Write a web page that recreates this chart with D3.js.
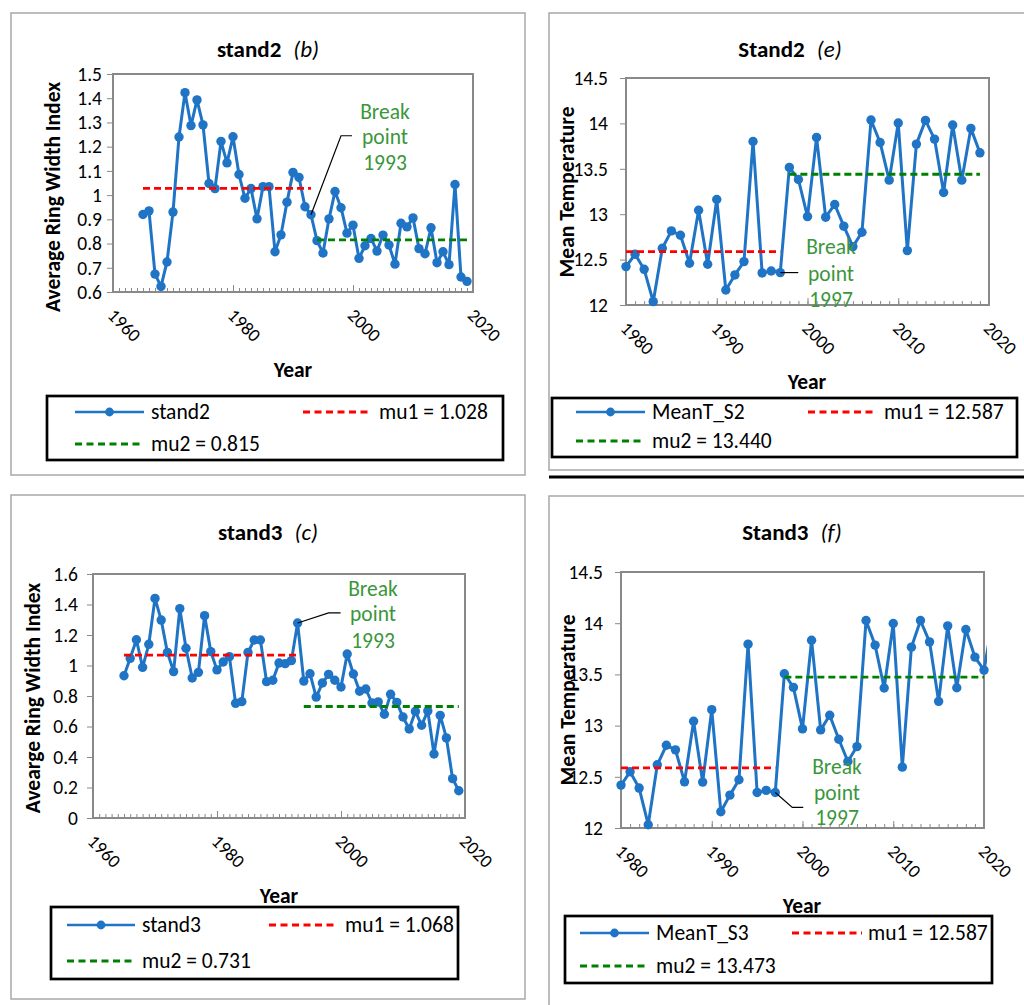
<!DOCTYPE html>
<html>
<head>
<meta charset="utf-8">
<script src="https://d3js.org/d3.v7.min.js"></script>
<style>
  body { margin: 0; background: #fff; }
  svg { display: block; font-family: Calibri, Carlito, Lato, sans-serif; }
</style>
</head>
<body>
<svg id="chart" width="1024" height="1005"></svg>
<script>
// ---- data ----
// ring width index, one value per year starting at 1965
var stand2Start = 1965;
var stand2 = [0.92, 0.935, 0.674, 0.623, 0.724, 0.93, 1.24, 1.423, 1.287, 1.393,
  1.29, 1.048, 1.027, 1.222, 1.133, 1.241, 1.085, 0.987, 1.027, 0.902,
  1.035, 1.035, 0.766, 0.836, 0.971, 1.094, 1.073, 0.952, 0.919, 0.812,
  0.761, 0.902, 1.015, 0.948, 0.843, 0.876, 0.739, 0.791, 0.821, 0.769,
  0.835, 0.794, 0.715, 0.884, 0.869, 0.906, 0.779, 0.758, 0.865, 0.721,
  0.766, 0.713, 1.044, 0.662, 0.644];

var stand3Start = 1965;
var stand3 = [0.933, 1.047, 1.169, 0.988, 1.139, 1.44, 1.298, 1.086, 0.96, 1.373,
  1.113, 0.918, 0.955, 1.327, 1.091, 0.971, 1.023, 1.058, 0.752, 0.763,
  1.086, 1.167, 1.167, 0.894, 0.903, 1.016, 1.012, 1.032, 1.279, 0.898,
  0.946, 0.793, 0.885, 0.942, 0.903, 0.859, 1.075, 0.944, 0.831, 0.846,
  0.754, 0.761, 0.68, 0.811, 0.758, 0.662, 0.584, 0.699, 0.608, 0.702,
  0.42, 0.673, 0.525, 0.258, 0.179];

// mean temperature, one value per year starting at 1980
var meanTS2Start = 1980;
var meanTS2 = [12.423, 12.559, 12.393, 12.037, 12.625, 12.816, 12.768, 12.46, 13.044, 12.449,
  13.162, 12.165, 12.331, 12.478, 13.801, 12.353, 12.375, 12.357, 13.515, 13.382,
  12.974, 13.846, 12.967, 13.107, 12.868, 12.643, 12.801, 14.037, 13.79, 13.375,
  14.004, 12.599, 13.772, 14.033, 13.827, 13.239, 13.982, 13.375, 13.945, 13.676];

var meanTS3Start = 1980;
var meanTS3 = [12.419, 12.549, 12.39, 12.032, 12.617, 12.808, 12.763, 12.451, 13.042, 12.448,
  13.156, 12.159, 12.321, 12.471, 13.795, 12.347, 12.367, 12.347, 13.506, 13.373,
  12.968, 13.834, 12.958, 13.101, 12.867, 12.649, 12.795, 14.026, 13.786, 13.367,
  13.997, 12.594, 13.766, 14.026, 13.818, 13.237, 13.974, 13.37, 13.938, 13.669,
  13.542, 14.05];

// segment means and the years they span
var mu_b = [1.028, 0.815];   var span_b = [[1965, 1993], [1994, 2019]];
var mu_c = [1.068, 0.731];   var span_c = [[1965, 1993], [1994, 2019]];
var mu_e = [12.587, 13.440]; var span_e = [[1980, 1997], [1998, 2019]];
var mu_f = [12.587, 13.473]; var span_f = [[1980, 1997], [1998, 2020]];

// tick labels
var xTicksRing = [1960, 1980, 2000, 2020];
var xTicksTemp = [1980, 1990, 2000, 2010, 2020];
var yTicksB = [0.6, 0.7, 0.8, 0.9, 1, 1.1, 1.2, 1.3, 1.4, 1.5];
var yTicksC = [0, 0.2, 0.4, 0.6, 0.8, 1, 1.2, 1.4, 1.6];
var yTicksTemp = [12, 12.5, 13, 13.5, 14, 14.5];

var BLUE = "#1f74c6", RED = "#ff0000", GREEN = "#008000", NOTE = "#3a963a";
var AXIS = "#898989", FRAME = "#a8a8a8";
var TICK_FS = "19.5px", XTICK_FS = "18.5px", LABEL_FS = "21.5px", TITLE_FS = "23px";

var panels = [
  { series: stand2, start: stand2Start, name: "stand2", title: "stand2", tag: "(b)",
    yTitle: "Average Ring Width Index", xDomain: [1960, 2020], xTicks: xTicksRing,
    yDomain: [0.6, 1.5], yTicks: yTicksB, mu: mu_b, span: span_b, breakYear: 1993,
    frame: {x: 11, y: 13, w: 514, h: 462}, plot: {l: 113, t: 74, r: 473, b: 292}, labelGap: 11,
    titleX: 268, titleY: 49, yTitleX: 53, yTitleY: 197, xTitleX: 293, xTitleY: 370,
    noteX: 385, noteY: [112, 137, 163], leader: [[0, 0], [30, -79], [41, -79]],
    legend: {x: 47, y: 396, w: 456, h: 64, rows: [412, 444], s1: [75, 144], t1: 151, s2: [303, 372], t2: 379} },
  { series: meanTS2, start: meanTS2Start, name: "MeanT_S2", title: "Stand2", tag: "(e)",
    yTitle: "Mean Temperature", xDomain: [1980, 2020], xTicks: xTicksTemp,
    yDomain: [12, 14.5], yTicks: yTicksTemp, mu: mu_e, span: span_e, breakYear: 1997,
    frame: {x: 549, y: 13, w: 500, h: 457}, plot: {l: 626, t: 78, r: 989, b: 305}, labelGap: 18,
    titleX: 790, titleY: 49, yTitleX: 567, yTitleY: 192, xTitleX: 807, xTitleY: 382,
    noteX: 831, noteY: [247, 274, 300], leader: [[0, 0], [18, 0]],
    legend: {x: 552, y: 398, w: 465, h: 59, rows: [412, 441], s1: [576, 645], t1: 652, s2: [808, 877], t2: 884} },
  { series: stand3, start: stand3Start, name: "stand3", title: "stand3", tag: "(c)",
    yTitle: "Avearge Ring Width Index", xDomain: [1960, 2020], xTicks: xTicksRing,
    yDomain: [0, 1.6], yTicks: yTicksC, mu: mu_c, span: span_c, breakYear: 1993,
    frame: {x: 11, y: 495, w: 514, h: 504}, plot: {l: 93, t: 574, r: 465, b: 818}, labelGap: 15,
    titleX: 268, titleY: 532, yTitleX: 33, yTitleY: 698, xTitleX: 279, xTitleY: 896,
    noteX: 373, noteY: [589, 614, 641], leader: [[0, 0], [31, -10], [43, -10]],
    legend: {x: 51, y: 907, w: 407, h: 72, rows: [925, 961], s1: [67, 135], t1: 142, s2: [269, 338], t2: 345} },
  { series: meanTS3, start: meanTS3Start, name: "MeanT_S3", title: "Stand3", tag: "(f)",
    yTitle: "Mean Temperature", xDomain: [1980, 2020], xTicks: xTicksTemp,
    yDomain: [12, 14.5], yTicks: yTicksTemp, mu: mu_f, span: span_f, breakYear: 1997,
    frame: {x: 549, y: 496, w: 500, h: 540}, plot: {l: 621, t: 572, r: 984, b: 828}, labelGap: 18,
    titleX: 792, titleY: 532, yTitleX: 568, yTitleY: 700, xTitleX: 802, xTitleY: 906,
    noteX: 837, noteY: [767, 793, 818], leader: [[0, 0], [17, 15], [28, 15]],
    legend: {x: 565, y: 916, w: 427, h: 67, rows: [933, 966], s1: [580, 649], t1: 656, s2: [792, 862], t2: 868} }
];

var svg = d3.select("#chart");

function drawPanel(p, idx) {
  var g = svg.append("g");

  g.append("rect")
    .attr("x", p.frame.x).attr("y", p.frame.y)
    .attr("width", p.frame.w).attr("height", p.frame.h)
    .attr("fill", "none").attr("stroke", FRAME).attr("stroke-width", 1.5);

  var x = d3.scaleLinear().domain(p.xDomain).range([p.plot.l, p.plot.r]);
  var y = d3.scaleLinear().domain(p.yDomain).range([p.plot.b, p.plot.t]);

  // title: bold name + italic panel letter
  var t = g.append("text")
    .attr("x", p.titleX).attr("y", p.titleY)
    .attr("text-anchor", "middle").attr("dominant-baseline", "central")
    .style("font-size", TITLE_FS);
  t.append("tspan").attr("font-weight", "bold").text(p.title);
  t.append("tspan").attr("font-style", "italic").attr("dx", 12).text(p.tag);

  // minor ticks every year, major ticks at labels (both point inward)
  var minor = d3.range(p.xDomain[0], p.xDomain[1] + 1);
  g.append("g").attr("transform", "translate(0," + p.plot.b + ")")
    .call(d3.axisBottom(x).tickValues(minor).tickSize(-4).tickFormat(""))
    .call(function(s) { s.select(".domain").remove(); });
  g.append("g").attr("transform", "translate(0," + p.plot.b + ")")
    .call(d3.axisBottom(x).tickValues(p.xTicks).tickSize(-7).tickFormat(""))
    .call(function(s) { s.select(".domain").remove(); });
  g.selectAll("g.tick line").attr("stroke", AXIS);

  g.selectAll("text.xlab")
    .data(p.xTicks)
    .enter().append("text")
    .attr("class", "xlab")
    .attr("transform", function(d) { return "translate(" + (x(d) + 3) + "," + (p.plot.b + 15) + ") rotate(45)"; })
    .attr("dy", "0.72em")
    .style("font-size", XTICK_FS)
    .text(function(d) { return d; });

  var ya = g.append("g").attr("transform", "translate(" + p.plot.l + ",0)")
    .call(d3.axisLeft(y).tickValues(p.yTicks).tickSize(6).tickPadding(p.labelGap - 6)
      .tickFormat(function(d) { return String(+d.toFixed(2)); }));
  ya.select(".domain").remove();
  ya.attr("font-family", null).attr("font-size", null);
  ya.selectAll("line").attr("stroke", AXIS);
  ya.selectAll("text").style("font-size", TICK_FS).attr("fill", "#000");

  // plot area border
  g.append("rect")
    .attr("x", p.plot.l).attr("y", p.plot.t)
    .attr("width", p.plot.r - p.plot.l).attr("height", p.plot.b - p.plot.t)
    .attr("fill", "none").attr("stroke", AXIS).attr("stroke-width", 2);

  // series
  var pts = p.series.map(function(v, i) { return {year: p.start + i, v: v}; });
  g.append("clipPath").attr("id", "clip" + idx)
    .append("rect")
    .attr("x", p.plot.l).attr("y", p.plot.t - 10)
    .attr("width", p.plot.r - p.plot.l + 3).attr("height", p.plot.b - p.plot.t + 20);

  var line = d3.line().x(function(d) { return x(d.year); }).y(function(d) { return y(d.v); });
  g.append("path").datum(pts)
    .attr("d", line)
    .attr("clip-path", "url(#clip" + idx + ")")
    .attr("fill", "none").attr("stroke", BLUE).attr("stroke-width", 3)
    .attr("stroke-linejoin", "round");

  g.selectAll("circle.pt")
    .data(pts.filter(function(d) { return d.year <= p.xDomain[1]; }))
    .enter().append("circle")
    .attr("class", "pt")
    .attr("cx", function(d) { return x(d.year); })
    .attr("cy", function(d) { return y(d.v); })
    .attr("r", 4.7)
    .attr("fill", BLUE);

  // segment means
  var muColors = [RED, GREEN];
  p.mu.forEach(function(m, k) {
    g.append("line")
      .attr("x1", x(p.span[k][0])).attr("x2", x(p.span[k][1]))
      .attr("y1", y(m)).attr("y2", y(m))
      .attr("stroke", muColors[k]).attr("stroke-width", 2.8)
      .attr("stroke-dasharray", "7,4");
  });

  // break point note
  var bv = p.series[p.breakYear - p.start];
  var bx = x(p.breakYear), by = y(bv);
  g.append("path")
    .attr("d", d3.line()(p.leader.map(function(o) { return [bx + o[0], by + o[1]]; })))
    .attr("fill", "none").attr("stroke", "#000").attr("stroke-width", 1.2);
  ["Break", "point", String(p.breakYear)].forEach(function(s, i) {
    g.append("text")
      .attr("x", p.noteX).attr("y", p.noteY[i])
      .attr("text-anchor", "middle").attr("dominant-baseline", "central")
      .attr("fill", NOTE).style("font-size", LABEL_FS)
      .text(s);
  });

  // axis titles
  g.append("text")
    .attr("transform", "translate(" + p.yTitleX + "," + p.yTitleY + ") rotate(-90)")
    .attr("text-anchor", "middle").attr("dominant-baseline", "central")
    .attr("font-weight", "bold").style("font-size", LABEL_FS)
    .text(p.yTitle);
  g.append("text")
    .attr("x", p.xTitleX).attr("y", p.xTitleY)
    .attr("text-anchor", "middle").attr("dominant-baseline", "central")
    .attr("font-weight", "bold").style("font-size", LABEL_FS)
    .text("Year");

  // legend
  var L = p.legend;
  g.append("rect")
    .attr("x", L.x).attr("y", L.y).attr("width", L.w).attr("height", L.h)
    .attr("fill", "#fff").attr("stroke", "#000").attr("stroke-width", 2.7);
  g.append("line")
    .attr("x1", L.s1[0]).attr("x2", L.s1[1]).attr("y1", L.rows[0]).attr("y2", L.rows[0])
    .attr("stroke", BLUE).attr("stroke-width", 2.7);
  g.append("circle")
    .attr("cx", (L.s1[0] + L.s1[1]) / 2).attr("cy", L.rows[0]).attr("r", 4.4).attr("fill", BLUE);
  var entries = [
    {sx: L.s2, tx: L.t2, ty: L.rows[0], color: RED, label: "mu1 = " + p.mu[0].toFixed(3)},
    {sx: L.s1, tx: L.t1, ty: L.rows[1], color: GREEN, label: "mu2 = " + p.mu[1].toFixed(3)}
  ];
  entries.forEach(function(e) {
    g.append("line")
      .attr("x1", e.sx[0]).attr("x2", e.sx[1]).attr("y1", e.ty).attr("y2", e.ty)
      .attr("stroke", e.color).attr("stroke-width", 2.8).attr("stroke-dasharray", "7,4.5");
    g.append("text")
      .attr("x", e.tx).attr("y", e.ty).attr("dominant-baseline", "central")
      .style("font-size", LABEL_FS).text(e.label);
  });
  g.append("text")
    .attr("x", L.t1).attr("y", L.rows[0]).attr("dominant-baseline", "central")
    .style("font-size", LABEL_FS).text(p.name);
}

panels.forEach(drawPanel);

// black rule under the top-right panel
svg.append("line")
  .attr("x1", 549).attr("x2", 1024).attr("y1", 477).attr("y2", 477)
  .attr("stroke", "#000").attr("stroke-width", 3);
</script>
</body>
</html>
